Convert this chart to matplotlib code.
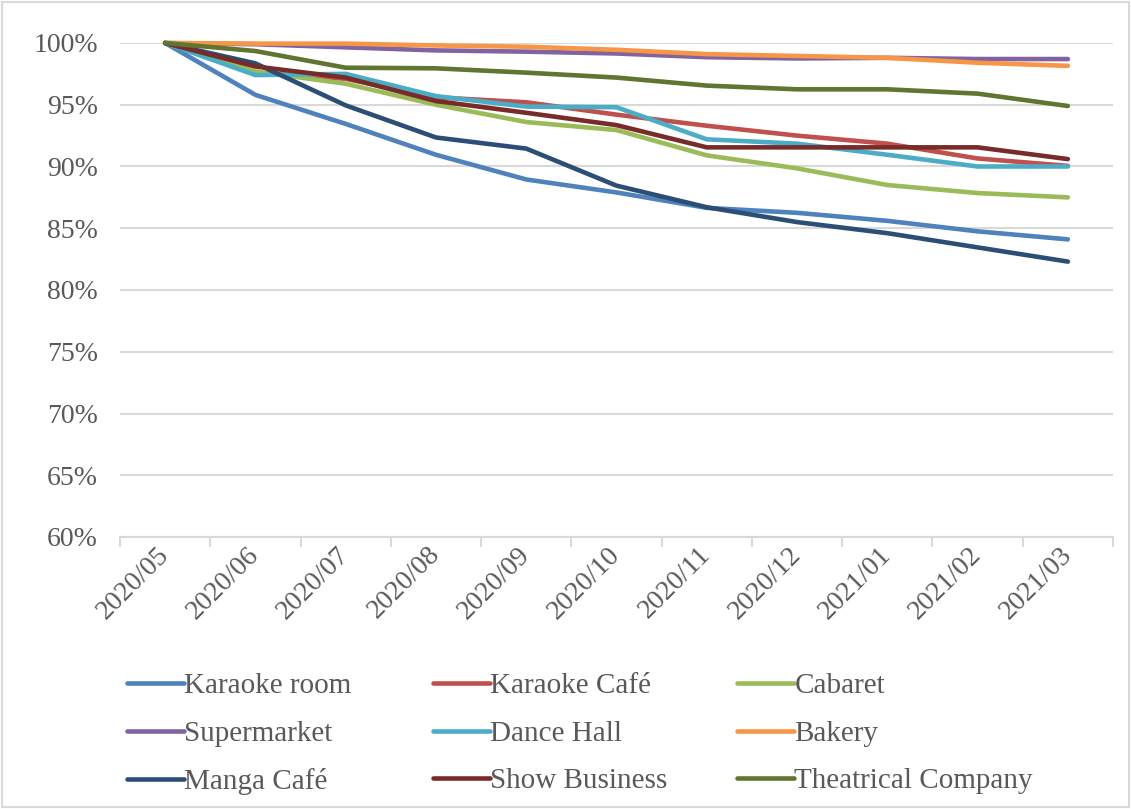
import numpy as np
import matplotlib
matplotlib.use("Agg")
import matplotlib.pyplot as plt
from matplotlib.ticker import FixedLocator, FuncFormatter
from matplotlib.patches import Rectangle

months = ["2020/05", "2020/06", "2020/07", "2020/08", "2020/09", "2020/10",
          "2020/11", "2020/12", "2021/01", "2021/02", "2021/03"]

karaoke_room = [100, 95.8, 93.45, 90.95, 88.95, 87.9, 86.65, 86.25, 85.6, 84.75, 84.1]
karaoke_cafe = [100, 97.6, 97.1, 95.6, 95.2, 94.2, 93.3, 92.5, 91.85, 90.65, 90.05]
cabaret = [100, 97.7, 96.7, 95.0, 93.6, 92.95, 90.9, 89.85, 88.5, 87.85, 87.5]
supermarket = [100, 99.9, 99.65, 99.4, 99.3, 99.15, 98.85, 98.75, 98.8, 98.7, 98.7]
dance_hall = [100, 97.4, 97.5, 95.7, 94.85, 94.8, 92.2, 91.85, 90.95, 90.0, 90.0]
bakery = [100, 99.95, 99.95, 99.8, 99.7, 99.45, 99.1, 98.95, 98.8, 98.4, 98.15]
manga_cafe = [100, 98.35, 94.95, 92.35, 91.45, 88.45, 86.7, 85.5, 84.6, 83.45, 82.3]
show_business = [100, 98.1, 97.2, 95.3, 94.35, 93.35, 91.55, 91.55, 91.55, 91.55, 90.6]
theatrical = [100, 99.35, 98.0, 97.95, 97.6, 97.2, 96.55, 96.25, 96.25, 95.9, 94.9]

names = ["Karaoke room", "Karaoke Café", "Cabaret",
         "Supermarket", "Dance Hall", "Bakery",
         "Manga Café", "Show Business", "Theatrical Company"]
series = [karaoke_room, karaoke_cafe, cabaret,
          supermarket, dance_hall, bakery,
          manga_cafe, show_business, theatrical]
colors = ["#4F81BD", "#C0504D", "#9BBB59",
          "#8064A2", "#4BACC6", "#F79646",
          "#2C4D75", "#772C2A", "#5F7530"]

grey_text = "#595959"
grid_col = "#D9D9D9"
plt.rcParams["font.family"] = ["Liberation Serif", "DejaVu Serif"]

fig = plt.figure(figsize=(11.31, 8.09), dpi=100)
ax = fig.add_axes([120 / 1131, 1 - 537 / 809, (1113 - 120) / 1131, (537 - 43) / 809])

x = np.arange(len(months))
lines = []
for vals, name, col in zip(series, names, colors):
    ln, = ax.plot(x, np.array(vals) / 100, color=col, lw=3.3, label=name,
                  solid_capstyle="round", solid_joinstyle="round", clip_on=False)
    lines.append(ln)

ax.set_xlim(-0.5, len(months) - 0.5)
ax.set_ylim(0.6, 1.0)

yt = np.arange(0.60, 1.001, 0.05)
ax.yaxis.set_major_locator(FixedLocator(yt))
ax.yaxis.set_major_formatter(FuncFormatter(lambda v, p: f"{v * 100:.0f}%"))
ax.grid(axis="y", color=grid_col, lw=1.5)
ax.set_axisbelow(True)
ax.tick_params(axis="y", length=0, pad=16, labelsize=20, labelcolor=grey_text)

# tick marks sit between categories, labels at the category centres
ax.xaxis.set_major_locator(FixedLocator(np.arange(-0.5, len(months), 1.0)))
ax.xaxis.set_major_formatter(FuncFormatter(lambda v, p: ""))
ax.xaxis.set_minor_locator(FixedLocator(x))
ax.set_xticks(x, months, minor=True)
ax.tick_params(axis="x", which="major", length=7, width=1.5, color=grid_col)
ax.tick_params(axis="x", which="minor", length=0, pad=10, labelsize=20, labelcolor=grey_text)
for lab in ax.get_xticklabels(minor=True):
    lab.set_rotation(45)
    lab.set_ha("right")
    lab.set_va("center")
    lab.set_rotation_mode("anchor")

for s in ["top", "right", "left"]:
    ax.spines[s].set_visible(False)
ax.spines["bottom"].set_color(grid_col)
ax.spines["bottom"].set_linewidth(1.5)

# legend laid out as three columns of three
col_x = [127, 433, 737]
for c in range(3):
    hs = lines[c::3]
    leg = fig.legend(handles=hs, labels=[h.get_label() for h in hs],
                     loc="upper left", bbox_to_anchor=(col_x[c] / 1131, 1 - 673 / 809),
                     frameon=False, fontsize=21, handlelength=1.95, handletextpad=0.02,
                     labelspacing=0.72, borderaxespad=0, borderpad=0)
    for t in leg.get_texts():
        t.set_color(grey_text)
    for h in leg.legend_handles:
        h.set_linewidth(3.3)
        h.set_solid_capstyle("round")

fig.patches.append(Rectangle((0.002, 0.002), 0.996, 0.996, transform=fig.transFigure,
                             fill=False, edgecolor=grid_col, lw=1.5))

fig.savefig("out.png", dpi=100)
